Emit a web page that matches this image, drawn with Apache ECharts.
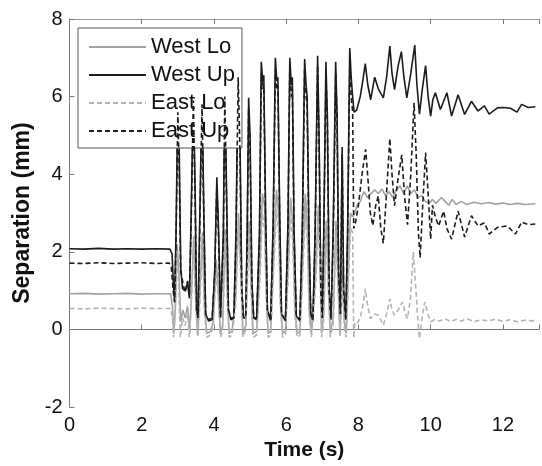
<!DOCTYPE html>
<html>
<head>
<meta charset="utf-8">
<script src="https://cdn.jsdelivr.net/npm/echarts@6/dist/echarts.min.js"></script>
<style>
html,body{margin:0;padding:0;background:#fff;}
#chart{width:542px;height:466px;}
</style>
</head>
<body>
<div id="chart"></div>
<script>
const seriesNames = ['West Lo', 'West Up', 'East Lo', 'East Up'];
const xTicks = [0, 2, 4, 6, 8, 10, 12];
const yTicks = [-2, 0, 2, 4, 6, 8];

const westLo = [
[0,0.92],[0.4,0.93],[0.8,0.91],[1.2,0.92],[1.6,0.93],[2.0,0.91],[2.4,0.92],[2.8,0.92],[2.85,0.6],[2.89,-0.1],[2.93,0.5],[2.98,2.2],[3.03,1.5],[3.08,0.2],[3.14,0.5],[3.2,0.3],[3.27,0.6],[3.33,-0.1],[3.38,1.0],[3.44,2.4],[3.5,0.8],[3.55,-0.15],[3.6,0.8],[3.68,2.5],[3.74,0.6],[3.8,-0.1],[3.9,-0.05],[3.98,0.2],[4.06,1.8],[4.12,1.0],[4.18,-0.1],[4.24,0.1],[4.31,2.6],[4.37,1.0],[4.42,-0.1],[4.5,-0.05],[4.6,0.8],[4.68,3.0],[4.75,1.5],[4.8,-0.1],[4.88,0.1],[4.97,2.8],[5.03,1.2],[5.08,-0.1],[5.18,-0.05],[5.27,1.5],[5.34,3.5],[5.4,3.2],[5.45,1.0],[5.5,-0.1],[5.57,-0.05],[5.65,1.8],[5.73,3.6],[5.79,3.0],[5.84,0.8],[5.9,-0.1],[5.98,-0.05],[6.06,1.8],[6.12,3.4],[6.18,2.8],[6.24,0.6],[6.3,-0.1],[6.38,-0.05],[6.46,1.8],[6.53,3.5],[6.59,2.6],[6.64,0.5],[6.7,-0.1],[6.75,-0.05],[6.82,1.5],[6.89,3.2],[6.94,1.8],[6.98,-0.1],[7.03,0.3],[7.11,2.8],[7.17,1.2],[7.22,-0.1],[7.3,0.3],[7.38,2.8],[7.44,1.2],[7.49,-0.1],[7.56,1.5],[7.61,0.2],[7.66,-0.1],[7.72,1.5],[7.78,3.0],[7.84,2.9],[7.9,3.0],[7.96,3.2],[8.05,3.3],[8.15,3.55],[8.25,3.4],[8.35,3.5],[8.45,3.6],[8.55,3.5],[8.65,3.62],[8.75,3.45],[8.85,3.55],[8.95,3.4],[9.05,3.6],[9.15,3.7],[9.25,3.5],[9.35,3.7],[9.45,3.5],[9.55,3.6],[9.65,3.4],[9.75,3.45],[9.85,3.3],[9.95,3.25],[10.05,3.35],[10.15,3.25],[10.3,3.4],[10.4,3.3],[10.5,3.2],[10.6,3.35],[10.7,3.22],[10.85,3.3],[11.0,3.22],[11.2,3.28],[11.4,3.24],[11.6,3.27],[11.8,3.23],[12.0,3.26],[12.2,3.22],[12.4,3.25],[12.6,3.22],[12.9,3.24]
];

const westUp = [
[0,2.08],[0.4,2.07],[0.8,2.09],[1.2,2.07],[1.6,2.08],[2.0,2.07],[2.4,2.08],[2.78,2.07],[2.84,1.95],[2.88,1.1],[2.91,0.75],[2.95,2.5],[3.0,6.0],[3.04,4.5],[3.08,1.6],[3.13,1.05],[3.2,1.0],[3.27,1.2],[3.32,0.8],[3.37,3.0],[3.43,6.2],[3.48,3.5],[3.52,0.5],[3.56,0.3],[3.6,2.5],[3.67,6.2],[3.72,3.0],[3.77,0.4],[3.85,0.22],[3.95,0.25],[4.02,1.5],[4.08,3.92],[4.13,2.5],[4.18,0.3],[4.23,0.28],[4.26,2.5],[4.3,6.3],[4.35,3.5],[4.4,0.5],[4.47,0.25],[4.55,0.3],[4.61,2.5],[4.67,6.8],[4.72,5.0],[4.77,1.0],[4.82,0.3],[4.88,0.3],[4.92,2.5],[4.96,5.97],[5.0,5.0],[5.05,1.2],[5.1,0.3],[5.18,0.25],[5.26,2.5],[5.31,6.9],[5.35,6.4],[5.38,6.55],[5.43,3.0],[5.48,0.5],[5.57,0.22],[5.64,2.8],[5.7,7.0],[5.74,6.4],[5.77,6.5],[5.82,3.0],[5.87,0.4],[5.98,0.22],[6.05,2.8],[6.1,7.0],[6.14,6.3],[6.17,6.5],[6.22,2.5],[6.28,0.35],[6.38,0.22],[6.45,2.8],[6.51,6.97],[6.55,6.3],[6.58,6.0],[6.63,2.5],[6.68,0.4],[6.74,0.22],[6.8,2.5],[6.87,7.05],[6.91,5.0],[6.96,1.0],[7.0,0.3],[7.04,2.5],[7.1,6.9],[7.14,5.5],[7.19,1.0],[7.24,0.25],[7.3,2.5],[7.37,6.9],[7.41,5.5],[7.45,1.5],[7.5,0.4],[7.55,4.7],[7.59,1.0],[7.65,0.25],[7.7,2.5],[7.76,7.25],[7.8,6.5],[7.84,6.0],[7.88,5.6],[7.95,5.65],[8.05,6.0],[8.12,6.4],[8.19,6.85],[8.26,6.3],[8.34,5.92],[8.45,6.5],[8.55,6.2],[8.69,5.97],[8.78,6.5],[8.87,7.3],[8.93,6.6],[9.0,6.18],[9.1,6.8],[9.19,7.16],[9.26,6.5],[9.34,5.97],[9.45,6.6],[9.56,7.33],[9.62,6.3],[9.69,5.55],[9.77,6.2],[9.86,6.8],[9.93,6.0],[10.0,5.5],[10.06,5.92],[10.13,6.1],[10.27,5.67],[10.45,6.1],[10.58,5.5],[10.76,6.05],[10.94,5.54],[11.13,5.88],[11.31,5.63],[11.49,5.76],[11.62,5.55],[11.85,5.71],[12.0,5.72],[12.21,5.7],[12.39,5.6],[12.52,5.8],[12.7,5.72],[12.9,5.74]
];

const eastLo = [
[0,0.54],[0.4,0.53],[0.8,0.55],[1.2,0.54],[1.6,0.53],[2.0,0.55],[2.4,0.54],[2.8,0.54],[2.85,0.3],[2.88,-0.2],[2.92,0.4],[2.97,2.0],[3.02,1.2],[3.07,-0.2],[3.13,0.3],[3.2,0.1],[3.27,0.4],[3.32,-0.2],[3.38,0.8],[3.44,2.2],[3.5,0.5],[3.55,-0.2],[3.6,0.5],[3.68,2.2],[3.74,0.4],[3.8,-0.2],[3.9,-0.15],[3.98,0.1],[4.06,1.5],[4.12,0.8],[4.18,-0.2],[4.24,0.0],[4.31,2.3],[4.37,0.8],[4.42,-0.2],[4.5,-0.15],[4.6,0.6],[4.68,2.7],[4.75,1.2],[4.8,-0.2],[4.88,0.0],[4.97,2.5],[5.03,1.0],[5.08,-0.2],[5.18,-0.15],[5.27,1.2],[5.34,3.0],[5.4,2.6],[5.45,0.8],[5.5,-0.2],[5.57,-0.15],[5.65,1.5],[5.73,3.1],[5.79,2.5],[5.84,0.6],[5.9,-0.2],[5.98,-0.15],[6.06,1.5],[6.12,3.0],[6.18,2.3],[6.24,0.4],[6.3,-0.2],[6.38,-0.15],[6.46,1.5],[6.53,3.0],[6.59,2.2],[6.64,0.3],[6.7,-0.2],[6.75,-0.15],[6.82,1.2],[6.89,2.8],[6.94,1.5],[6.98,-0.2],[7.03,0.1],[7.11,2.4],[7.17,1.0],[7.22,-0.2],[7.3,0.1],[7.38,2.4],[7.44,1.0],[7.49,-0.2],[7.56,1.2],[7.61,0.0],[7.66,-0.2],[7.72,1.2],[7.78,2.6],[7.84,2.5],[7.87,-0.22],[7.9,0.2],[7.98,0.18],[8.05,0.3],[8.12,0.6],[8.19,1.05],[8.26,0.6],[8.33,0.28],[8.45,0.4],[8.55,0.37],[8.69,0.11],[8.78,0.4],[8.87,0.79],[8.93,0.5],[9.0,0.37],[9.1,0.5],[9.22,0.71],[9.3,0.4],[9.36,0.28],[9.44,0.8],[9.52,2.0],[9.58,1.2],[9.64,0.3],[9.69,-0.23],[9.76,0.3],[9.84,0.71],[9.92,0.4],[10.0,0.2],[10.1,0.25],[10.25,0.22],[10.4,0.28],[10.55,0.2],[10.7,0.26],[10.85,0.22],[11.0,0.28],[11.2,0.2],[11.4,0.25],[11.6,0.22],[11.8,0.27],[12.0,0.21],[12.2,0.25],[12.4,0.2],[12.6,0.24],[12.9,0.22]
];

const eastUp = [
[0,1.71],[0.4,1.70],[0.8,1.72],[1.2,1.70],[1.6,1.71],[2.0,1.72],[2.4,1.70],[2.76,1.71],[2.82,1.6],[2.87,1.0],[2.91,0.7],[2.95,2.3],[3.0,5.6],[3.04,4.0],[3.08,1.5],[3.14,1.2],[3.2,0.95],[3.27,1.25],[3.32,0.9],[3.37,2.8],[3.43,5.9],[3.48,3.2],[3.52,0.5],[3.56,0.3],[3.6,2.3],[3.67,5.8],[3.72,2.8],[3.77,0.4],[3.85,0.25],[3.95,0.3],[4.02,1.4],[4.08,3.7],[4.13,2.3],[4.18,0.3],[4.23,0.3],[4.26,2.3],[4.3,6.0],[4.35,3.2],[4.4,0.5],[4.47,0.3],[4.55,0.3],[4.61,2.3],[4.67,6.5],[4.72,4.6],[4.77,1.0],[4.82,0.3],[4.88,0.35],[4.92,2.3],[4.96,5.7],[5.0,4.6],[5.05,1.2],[5.1,0.3],[5.18,0.3],[5.26,2.3],[5.31,6.6],[5.35,6.2],[5.38,6.3],[5.43,2.8],[5.48,0.5],[5.57,0.25],[5.64,2.6],[5.7,6.7],[5.74,6.2],[5.77,6.3],[5.82,2.8],[5.87,0.4],[5.98,0.25],[6.05,2.6],[6.1,6.8],[6.14,6.0],[6.17,6.2],[6.22,2.3],[6.28,0.35],[6.38,0.25],[6.45,2.6],[6.51,6.7],[6.55,6.0],[6.58,5.8],[6.63,2.3],[6.68,0.4],[6.74,0.25],[6.8,2.3],[6.87,6.8],[6.91,4.8],[6.96,1.0],[7.0,0.3],[7.04,2.3],[7.1,6.6],[7.14,5.3],[7.19,1.0],[7.24,0.3],[7.3,2.3],[7.37,6.6],[7.41,5.3],[7.45,1.5],[7.5,0.4],[7.55,4.5],[7.59,1.0],[7.65,0.3],[7.7,2.3],[7.76,6.9],[7.8,6.0],[7.84,5.6],[7.87,2.6],[7.92,2.76],[8.0,3.2],[8.1,4.0],[8.2,4.64],[8.27,3.8],[8.33,3.0],[8.4,2.68],[8.48,3.2],[8.55,3.44],[8.62,2.6],[8.69,2.22],[8.77,3.4],[8.87,4.92],[8.93,4.0],[9.0,3.19],[9.1,3.9],[9.2,4.5],[9.28,3.4],[9.36,2.7],[9.45,4.0],[9.54,5.84],[9.6,4.5],[9.66,2.5],[9.71,1.85],[9.78,3.2],[9.86,4.56],[9.93,3.5],[10.0,2.33],[10.05,3.2],[10.13,2.9],[10.22,2.67],[10.36,3.05],[10.45,2.6],[10.58,2.33],[10.76,3.05],[10.94,2.38],[11.13,2.93],[11.31,2.67],[11.49,2.75],[11.62,2.46],[11.85,2.63],[12.12,2.67],[12.35,2.46],[12.52,2.77],[12.7,2.7],[12.9,2.72]
];

const seriesData = [westLo, westUp, eastLo, eastUp];
const colors = ['#a3a3a3', '#1c1c1c', '#b4b4b4', '#1c1c1c'];
const dashed = [false, false, true, true];

const chart = echarts.init(document.getElementById('chart'), null, {renderer: 'canvas'});
const FONT = 'Liberation Sans, Arial, Helvetica, sans-serif';
const frameColor = '#7a7a7a';

const option = {
  animation: false,
  backgroundColor: '#ffffff',
  grid: {left: 69.5, top: 19, width: 479.7, height: 390, containLabel: false},
  legend: {
    data: seriesNames,
    orient: 'vertical',
    left: 78, top: 28,
    padding: [8, 7, 6, 10],
    itemWidth: 57, itemHeight: 14, itemGap: 6,
    itemStyle: {opacity: 0, borderWidth: 0},
    backgroundColor: '#ffffff',
    borderColor: '#555', borderWidth: 1,
    textStyle: {fontFamily: FONT, fontSize: 22, color: '#111', lineHeight: 22}
  },
  xAxis: [{
    type: 'value', min: 0, max: 13, interval: 2,
    position: 'bottom',
    name: 'Time (s)', nameLocation: 'middle', nameGap: 32,
    nameTextStyle: {fontFamily: FONT, fontSize: 21, fontWeight: 'bold', color: '#111'},
    axisLine: {show: true, lineStyle: {color: frameColor, width: 1}},
    axisTick: {show: true, inside: true, length: 5, lineStyle: {color: frameColor}},
    axisLabel: {fontFamily: FONT, fontSize: 20, color: '#111', margin: 8,
      formatter: v => (xTicks.indexOf(v) >= 0 ? String(v) : '')},
    splitLine: {show: false}
  }, {
    type: 'value', min: 0, max: 13, interval: 2,
    position: 'top',
    axisLine: {show: true, lineStyle: {color: '#9a9a9a', width: 1}},
    axisTick: {show: true, inside: true, length: 5, lineStyle: {color: frameColor}},
    axisLabel: {show: false},
    splitLine: {show: false}
  }],
  yAxis: [{
    type: 'value', min: -2, max: 8, interval: 2,
    name: 'Separation (mm)', nameLocation: 'middle', nameGap: 34,
    nameTextStyle: {fontFamily: FONT, fontSize: 23, fontWeight: 'bold', color: '#111'},
    axisLine: {show: true, lineStyle: {color: frameColor, width: 1}},
    axisTick: {show: true, inside: true, length: 5, lineStyle: {color: frameColor}},
    axisLabel: {fontFamily: FONT, fontSize: 20, color: '#111', margin: 7,
      formatter: v => (yTicks.indexOf(v) >= 0 ? String(v) : '')},
    splitLine: {show: false}
  }],
  series: seriesNames.map((name, i) => ({
    name: name,
    type: 'line',
    data: seriesData[i],
    symbol: 'none',
    showSymbol: false,
    smooth: false,
    xAxisIndex: 0, yAxisIndex: 0,
    lineStyle: {color: colors[i], width: 1.6, type: dashed[i] ? [5, 3] : 'solid'},
    itemStyle: {color: colors[i]},
    z: 2 + i
  }))
};
chart.setOption(option);
</script>
</body>
</html>
